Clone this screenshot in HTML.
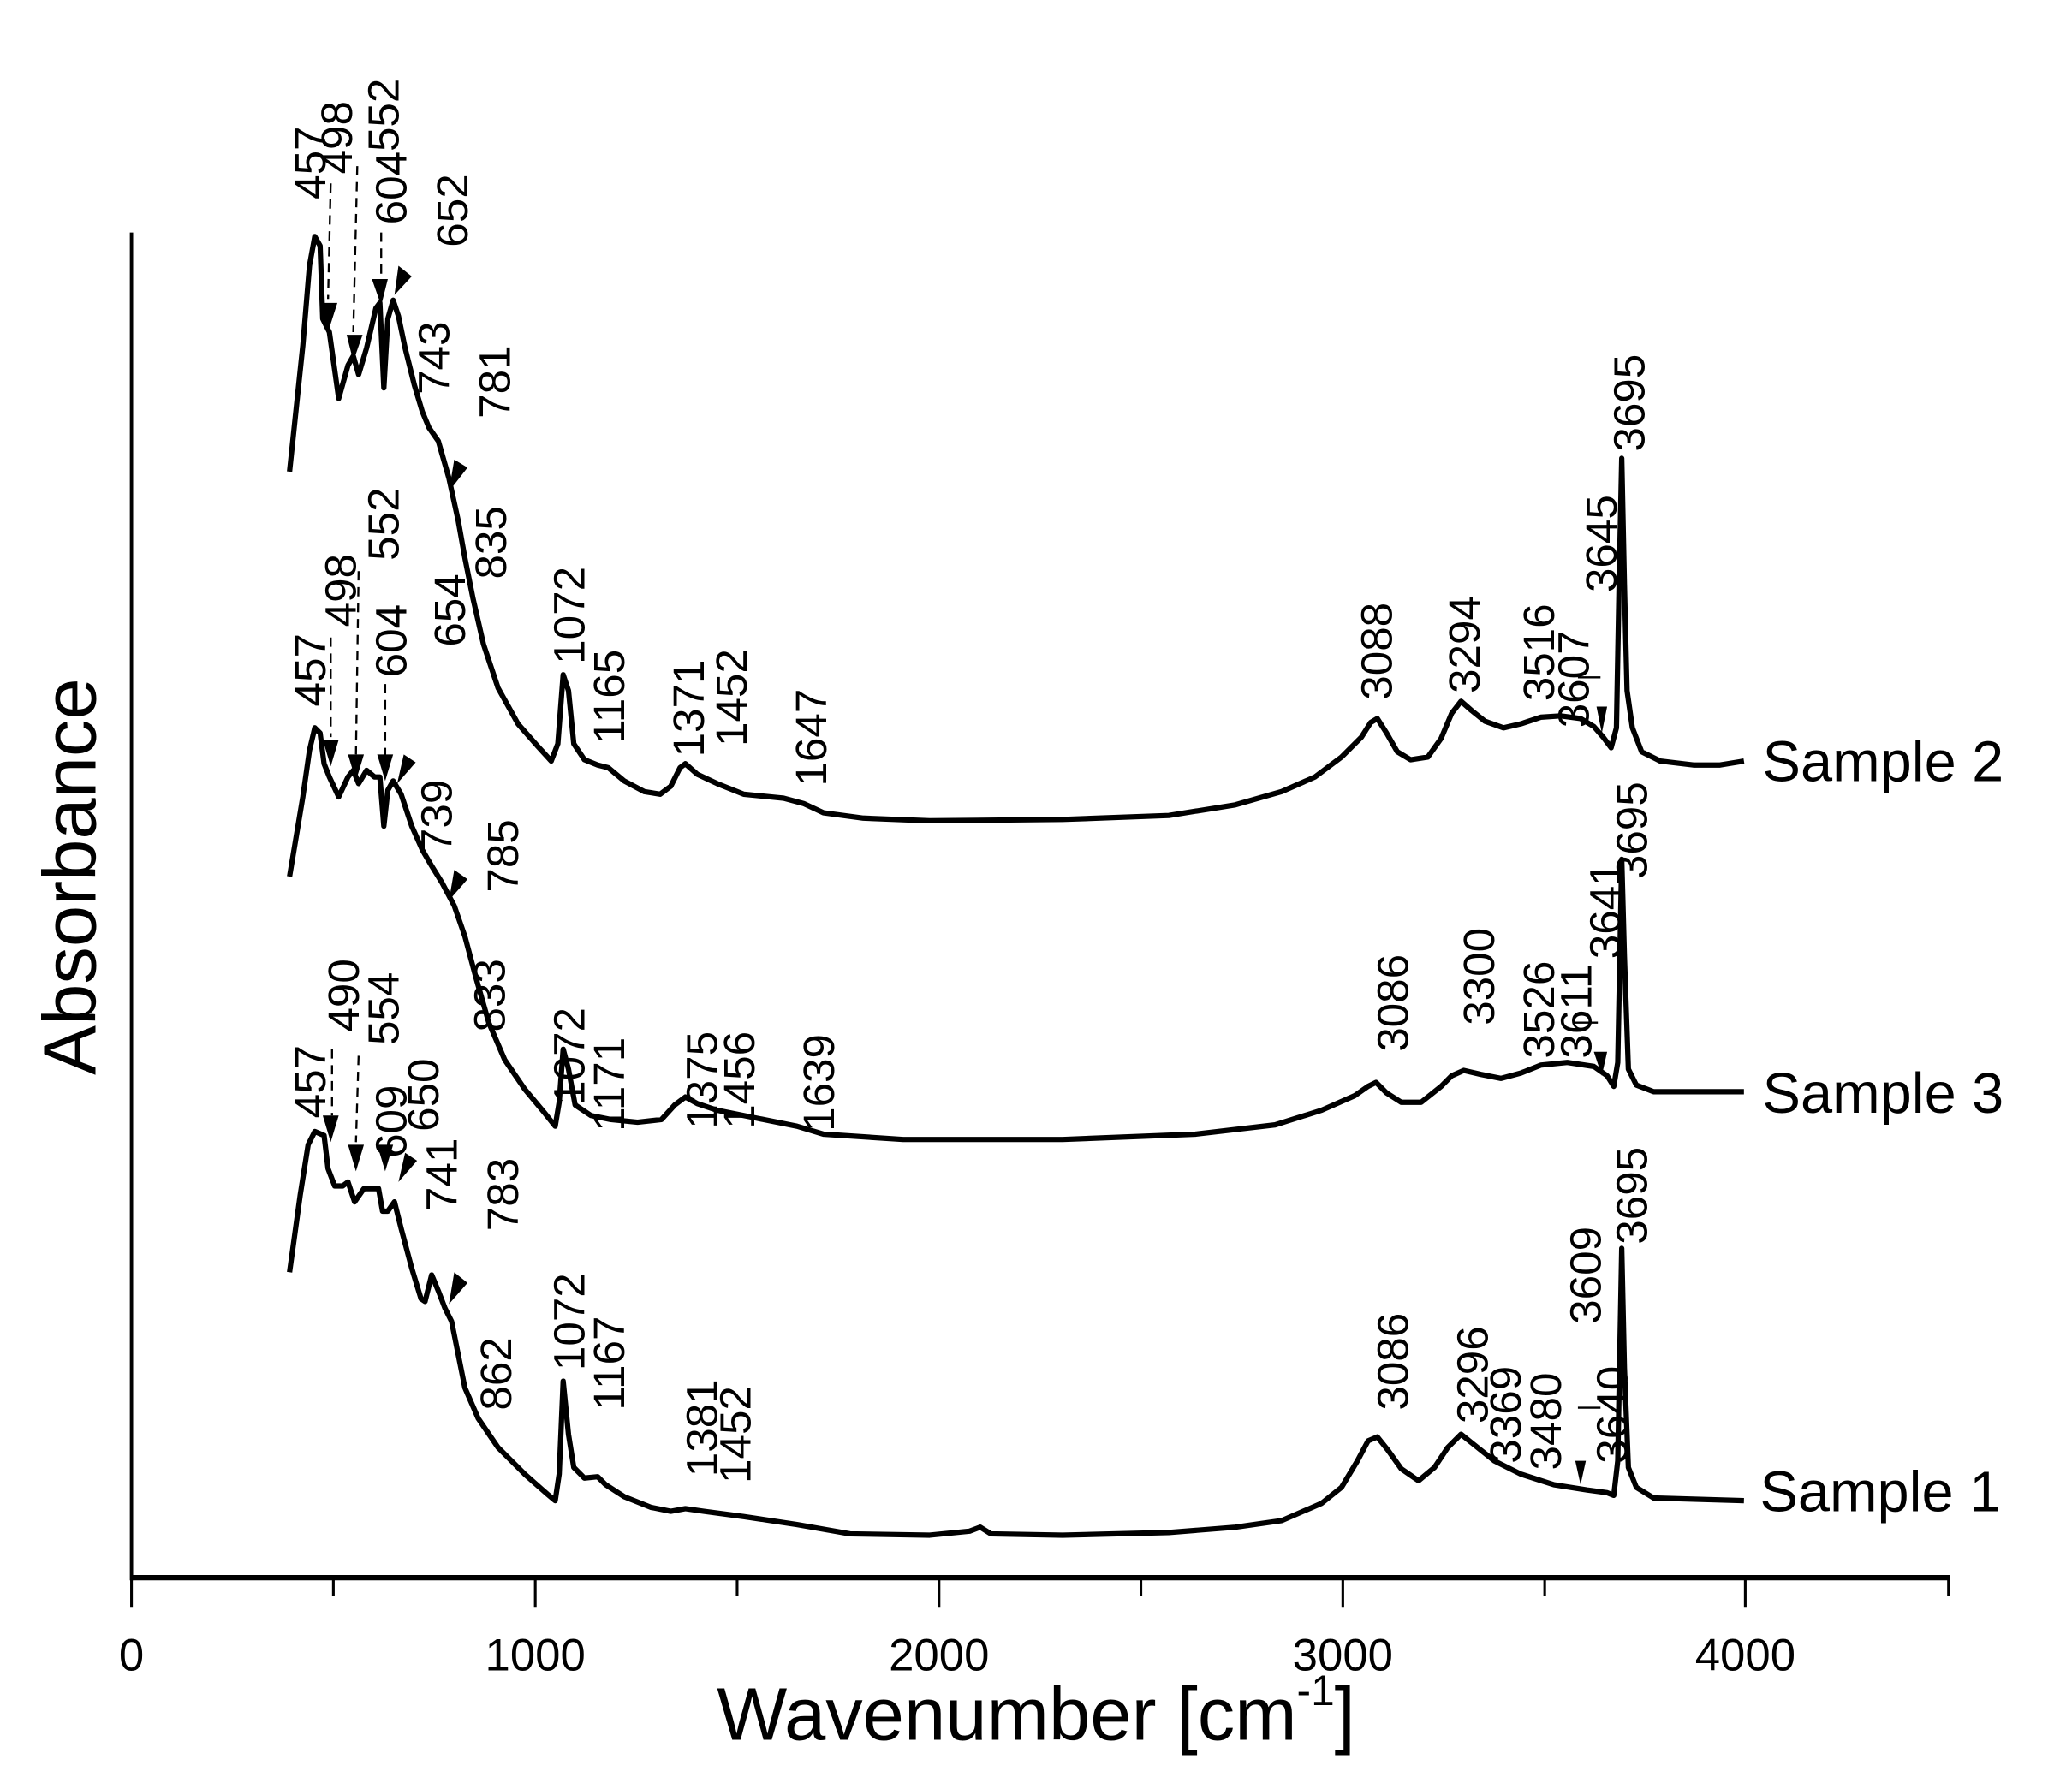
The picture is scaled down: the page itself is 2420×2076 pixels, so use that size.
<!DOCTYPE html>
<html><head><meta charset="utf-8"><style>
html,body{margin:0;padding:0;background:#fff;}
svg{display:block;}
text{font-family:"Liberation Sans",Arial,sans-serif;fill:#000;}
.l{font-size:33px;}
</style></head><body>
<svg width="2420" height="2076" viewBox="0 0 1560 1338" xmlns="http://www.w3.org/2000/svg">
<g fill="none" stroke="#000" stroke-width="4" stroke-linejoin="round">
<path d="M218,355 L228,260 L233,200 L237,178 L241,185 L243,240 L248,250 L255,300 L262,275 L266,268 L270,282 L276,262 L283,232 L286,228 L289,292 L292,240 L296,226 L300,238 L305,262 L312,290 L318,310 L323,322 L330,332 L338,360 L345,392 L350,420 L356,450 L364,485 L375,518 L390,545 L405,562 L415,573 L420,560 L424,508 L428,520 L432,560 L440,572 L450,576 L458,578 L470,588 L485,596 L497,598 L505,592 L512,578 L516,575 L525,583 L540,590 L560,598 L590,601 L605,605 L620,612 L650,616 L700,618 L800,617 L880,614 L930,606 L965,596 L990,585 L1010,570 L1025,555 L1032,544 L1037,541 L1044,552 L1052,566 L1062,572 L1075,570 L1085,556 L1093,537 L1100,528 L1108,535 L1118,543 L1132,548 L1145,545 L1160,540 L1175,539 L1190,541 L1200,547 L1207,555 L1213,563 L1217,548 L1219,440 L1221,345 L1223,440 L1225,520 L1229,548 L1236,566 L1250,573 L1275,576 L1295,576 L1313,573"/>
<path d="M218,660 L228,600 L233,565 L237,548 L241,552 L244,575 L248,585 L255,600 L262,585 L266,580 L270,590 L276,580 L282,585 L286,585 L289,622 L292,595 L296,588 L302,598 L310,622 L318,640 L325,652 L333,665 L342,682 L350,705 L358,735 L368,770 L380,798 L395,820 L410,838 L418,848 L421,830 L424,790 L428,805 L433,832 L445,840 L460,843 L480,845 L498,843 L508,832 L516,826 L525,831 L540,836 L570,842 L600,848 L620,854 L680,858 L800,858 L900,854 L960,847 L995,836 L1020,825 L1030,818 L1036,815 L1044,823 L1055,830 L1070,830 L1085,818 L1093,810 L1102,806 L1115,809 L1130,812 L1145,808 L1160,802 L1180,800 L1200,803 L1210,810 L1215,818 L1218,800 L1221,647 L1223,720 L1226,805 L1232,817 L1245,822 L1313,822"/>
<path d="M218,958 L226,900 L232,862 L237,852 L244,855 L247,880 L252,893 L258,893 L262,890 L267,905 L274,895 L280,895 L285,895 L288,912 L292,912 L297,905 L302,925 L310,955 L317,978 L320,980 L325,960 L330,972 L335,985 L340,995 L345,1020 L350,1045 L360,1068 L375,1090 L395,1110 L412,1125 L418,1130 L421,1110 L424,1040 L428,1080 L432,1105 L440,1113 L450,1112 L456,1118 L470,1127 L490,1135 L505,1138 L516,1136 L530,1138 L560,1142 L600,1148 L640,1155 L700,1156 L730,1153 L738,1150 L746,1155 L800,1156 L880,1154 L930,1150 L965,1145 L995,1132 L1010,1120 L1022,1100 L1030,1085 L1037,1082 L1045,1092 L1055,1106 L1068,1115 L1080,1105 L1090,1090 L1100,1080 L1110,1088 L1125,1100 L1145,1110 L1170,1118 L1195,1122 L1210,1124 L1215,1126 L1218,1100 L1221,940 L1223,1030 L1226,1105 L1232,1120 L1245,1128 L1313,1130"/>
</g>
<g stroke="#000" fill="none">
<line x1="99" y1="175" x2="99" y2="1190" stroke-width="2.5"/>
<line x1="98" y1="1188" x2="1468" y2="1188" stroke-width="4"/>
<g stroke-width="2">
<line x1="99" y1="1188" x2="99" y2="1210"/><line x1="403" y1="1188" x2="403" y2="1210"/><line x1="707" y1="1188" x2="707" y2="1210"/><line x1="1011" y1="1188" x2="1011" y2="1210"/><line x1="1314" y1="1188" x2="1314" y2="1210"/>
<line x1="251" y1="1188" x2="251" y2="1202"/><line x1="555" y1="1188" x2="555" y2="1202"/><line x1="859" y1="1188" x2="859" y2="1202"/><line x1="1163" y1="1188" x2="1163" y2="1202"/><line x1="1467" y1="1188" x2="1467" y2="1202"/>
</g>
</g>
<g font-size="34" text-anchor="middle">
<text x="99" y="1258">0</text><text x="403" y="1258">1000</text><text x="707" y="1258">2000</text><text x="1011" y="1258">3000</text><text x="1314" y="1258">4000</text>
</g>
<text x="780" y="1310" font-size="56" text-anchor="middle">Wavenumber [cm<tspan font-size="32" dy="-26">-1</tspan><tspan dy="26">]</tspan></text>
<text transform="translate(72,660) rotate(-90)" font-size="56" text-anchor="middle">Absorbance</text>
<g font-size="43">
<text x="1327" y="588">Sample 2</text>
<text x="1327" y="838">Sample 3</text>
<text x="1325" y="1138">Sample 1</text>
</g>
<g class="l">
<text transform="translate(245,150) rotate(-90)">457</text>
<text transform="translate(265,131) rotate(-90)">498</text>
<text transform="translate(300,114) rotate(-90)">552</text>
<text transform="translate(306,169) rotate(-90)">604</text>
<text transform="translate(352,186) rotate(-90)">652</text>
<text transform="translate(338,297) rotate(-90)">743</text>
<text transform="translate(384,315) rotate(-90)">781</text>
<text transform="translate(381,436) rotate(-90)">835</text>
<text transform="translate(440,500) rotate(-90)">1072</text>
<text transform="translate(470,560) rotate(-90)">1165</text>
<text transform="translate(530,570) rotate(-90)">1371</text>
<text transform="translate(562,562) rotate(-90)">1452</text>
<text transform="translate(622,592) rotate(-90)">1647</text>
<text transform="translate(1048,527) rotate(-90)">3088</text>
<text transform="translate(1114,522) rotate(-90)">3294</text>
<text transform="translate(1170,528) rotate(-90)">3516</text>
<text transform="translate(1196,548) rotate(-90)">3607</text>
<text transform="translate(1217,446) rotate(-90)">3645</text>
<text transform="translate(1238,340) rotate(-90)">3695</text>
<text transform="translate(245,532) rotate(-90)">457</text>
<text transform="translate(268,472) rotate(-90)">498</text>
<text transform="translate(300,422) rotate(-90)">552</text>
<text transform="translate(306,510) rotate(-90)">604</text>
<text transform="translate(350,487) rotate(-90)">654</text>
<text transform="translate(340,642) rotate(-90)">739</text>
<text transform="translate(390,672) rotate(-90)">785</text>
<text transform="translate(380,777) rotate(-90)">833</text>
<text transform="translate(440,832) rotate(-90)">1072</text>
<text transform="translate(470,852) rotate(-90)">1171</text>
<text transform="translate(540,850) rotate(-90)">1375</text>
<text transform="translate(568,850) rotate(-90)">1456</text>
<text transform="translate(628,852) rotate(-90)">1639</text>
<text transform="translate(1060,792) rotate(-90)">3086</text>
<text transform="translate(1125,772) rotate(-90)">3300</text>
<text transform="translate(1170,797) rotate(-90)">3526</text>
<text transform="translate(1198,797) rotate(-90)">3611</text>
<text transform="translate(1220,722) rotate(-90)">3641</text>
<text transform="translate(1240,662) rotate(-90)">3695</text>
<text transform="translate(245,842) rotate(-90)">457</text>
<text transform="translate(270,777) rotate(-90)">490</text>
<text transform="translate(300,787) rotate(-90)">554</text>
<text transform="translate(306,872) rotate(-90)">609</text>
<text transform="translate(330,852) rotate(-90)">650</text>
<text transform="translate(344,912) rotate(-90)">741</text>
<text transform="translate(390,927) rotate(-90)">783</text>
<text transform="translate(385,1062) rotate(-90)">862</text>
<text transform="translate(440,1032) rotate(-90)">1072</text>
<text transform="translate(470,1062) rotate(-90)">1167</text>
<text transform="translate(540,1112) rotate(-90)">1381</text>
<text transform="translate(565,1117) rotate(-90)">1452</text>
<text transform="translate(1060,1062) rotate(-90)">3086</text>
<text transform="translate(1120,1072) rotate(-90)">3296</text>
<text transform="translate(1145,1102) rotate(-90)">3369</text>
<text transform="translate(1175,1107) rotate(-90)">3480</text>
<text transform="translate(1205,997) rotate(-90)">3609</text>
<text transform="translate(1225,1102) rotate(-90)">3640</text>
<text transform="translate(1240,937) rotate(-90)">3695</text>
</g>
<g stroke="#000" stroke-width="1.5" stroke-dasharray="7,5" fill="none">
<line x1="249" y1="138" x2="247" y2="225"/>
<line x1="269" y1="125" x2="266" y2="250"/>
<line x1="287" y1="175" x2="287" y2="212"/>
<line x1="249" y1="480" x2="249" y2="555"/>
<line x1="270" y1="430" x2="268" y2="568"/>
<line x1="290" y1="515" x2="290" y2="570"/>
<line x1="250" y1="790" x2="250" y2="840"/>
<line x1="270" y1="795" x2="268" y2="860"/>
</g>
<g stroke="#000" stroke-width="1.5" fill="none">
<line x1="1188" y1="510" x2="1205" y2="510"/>
<line x1="1186" y1="770" x2="1203" y2="770"/>
<line x1="1188" y1="1060" x2="1205" y2="1060"/>
</g>
<g fill="#000">
<polygon points="242,228 254,228 247,250"/>
<polygon points="261,252 273,252 266,272"/>
<polygon points="280,210 292,210 287,230"/>
<polygon points="300,200 310,208 297,222"/>
<polygon points="342,346 352,352 338,370"/>
<polygon points="1202,532 1210,532 1206,552"/>
<polygon points="243,557 255,557 249,577"/>
<polygon points="262,568 274,568 268,588"/>
<polygon points="284,568 296,568 290,588"/>
<polygon points="304,568 313,574 299,590"/>
<polygon points="342,655 352,662 338,678"/>
<polygon points="1200,792 1210,792 1206,810"/>
<polygon points="243,840 255,840 249,860"/>
<polygon points="262,862 274,862 268,882"/>
<polygon points="284,862 296,862 290,882"/>
<polygon points="305,868 314,874 300,890"/>
<polygon points="342,958 352,966 338,982"/>
<polygon points="1186,1100 1194,1100 1190,1118"/>
</g>
</svg>
</body></html>
